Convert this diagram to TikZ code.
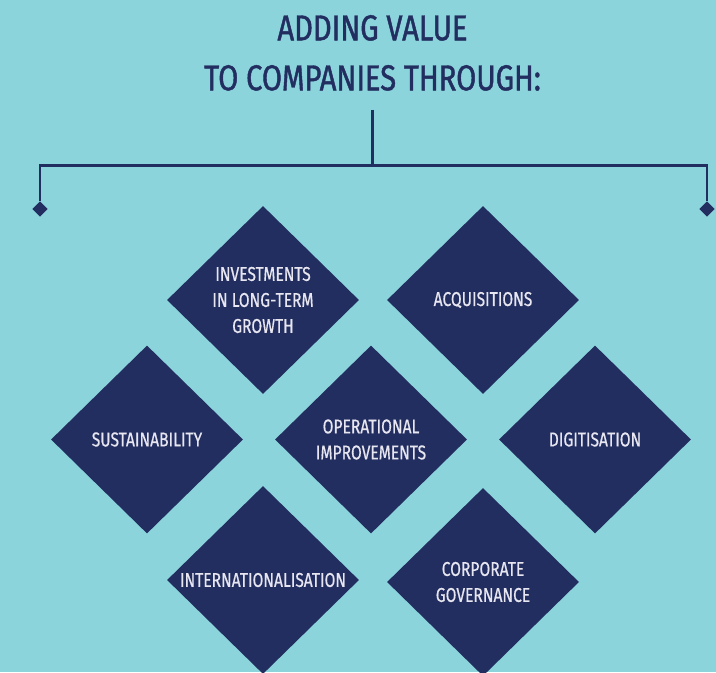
\documentclass[tikz,border=0pt]{standalone}
\usepackage{fontspec}
\newfontfamily\headsans[FakeStretch=0.81,FakeBold=1.2]{Fira Sans}
\newfontfamily\narrowsans[FakeStretch=0.78,FakeBold=0.6]{Fira Sans}
\usetikzlibrary{shapes.geometric}
\definecolor{bgteal}{RGB}{140,212,220}
\definecolor{navy}{RGB}{34,46,96}
\definecolor{tiletext}{RGB}{232,230,240}

\begin{document}
\begin{tikzpicture}[
    x=0.75pt, y=-0.75pt,
    tile/.style={diamond, fill=navy, inner sep=0pt, minimum width=144pt, minimum height=141pt,
        text=tiletext, align=center, font=\narrowsans\fontsize{15}{19.5}\selectfont},
    knob/.style={diamond, fill=navy, inner sep=0pt, minimum size=11.5pt},
    bracket/.style={draw=navy, line width=1.6pt}
]
    % page
    \fill[bgteal] (0,0) rectangle (716,672);
    \useasboundingbox (0,0) rectangle (716,672);

    % heading
    \node[anchor=south, inner sep=0pt, text=navy, align=center,
        font=\headsans\fontsize{27}{37.5}\selectfont] (title) at (372.5,91)
        {ADDING VALUE\\TO COMPANIES THROUGH:};

    % bracket under the heading
    \coordinate (hub) at (372.5,165.5);
    \node[knob] (endL) at (40,209) {};
    \node[knob] (endR) at (707,209) {};
    \draw[bracket] ([yshift=-14pt]title.south) -- (hub);
    \draw[bracket] (endL.north) |- (hub) -| (endR.north);

    % tiles, row by row
    \node[tile] (growth) at (263,300) {INVESTMENTS\\IN LONG-TERM\\GROWTH};
    \node[tile] (acq) at (483,300) {ACQUISITIONS};

    \node[tile] (sust) at (147,439.5) {SUSTAINABILITY};
    \node[tile] (ops) at (371,439.5) {OPERATIONAL\\IMPROVEMENTS};
    \node[tile] (digit) at (595,439.5) {DIGITISATION};

    \node[tile] (intl) at (263,580) {INTERNATIONALISATION};
    \node[tile] (gov) at (483,582) {CORPORATE\\GOVERNANCE};
\end{tikzpicture}
\end{document}
